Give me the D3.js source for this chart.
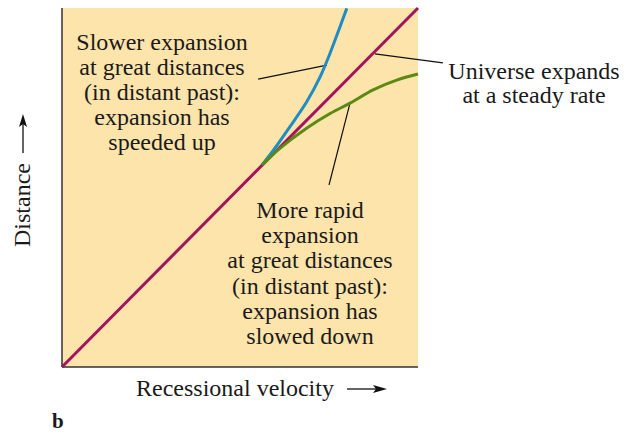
<!DOCTYPE html>
<html>
<head>
<meta charset="utf-8">
<script src="https://cdn.jsdelivr.net/npm/d3@7"></script>
<style>
	body { margin: 0; background: #fff; }
</style>
</head>
<body>
<div id="chart"></div>
<script>

// curves, as (velocity, distance) in arbitrary 0..1 units
var steady = [[0, 0], [1, 1]];
var speededUp = [[0.562, 0.563], [0.594, 0.604], [0.640, 0.669], [0.687, 0.738], [0.725, 0.808], [0.753, 0.874], [0.781, 0.948], [0.800, 0.999]];
var slowedDown = [[0.562, 0.563], [0.612, 0.609], [0.687, 0.665], [0.753, 0.706], [0.809, 0.735], [0.874, 0.772], [0.940, 0.799], [1.0, 0.816]];

// leader lines for the labels
var leaderSlower = [[0.551, 0.802], [0.744, 0.841]];
var leaderSteady = [[0.879, 0.872], [1.070, 0.847]];
var leaderRapid = [[0.809, 0.735], [0.750, 0.507]];

var labelSlower = ["Slower expansion", "at great distances", "(in distant past):", "expansion has", "speeded up"];
var labelRapid = ["More rapid", "expansion", "at great distances", "(in distant past):", "expansion has", "slowed down"];
var labelSteady = ["Universe expands", "at a steady rate"];

var SERIF = "'Liberation Serif', 'Times New Roman', serif";

function main(){

	var width = 632,
		height = 439;

	var left = 62, right = 418, top = 8, bottom = 367;

	var svg = d3.select("#chart").append("svg")
		.attr("width", width)
		.attr("height", height);

	var x = d3.scaleLinear().domain([0, 1]).range([left, right]);
	var y = d3.scaleLinear().domain([0, 1]).range([bottom, top]);

	// background panel
	svg.append("rect")
		.attr("x", left)
		.attr("y", top)
		.attr("width", right - left)
		.attr("height", bottom - top)
		.attr("fill", "#fde4ab");

	// axes (plain lines, no ticks)
	svg.append("line")
		.attr("x1", left).attr("x2", left)
		.attr("y1", top).attr("y2", bottom)
		.attr("stroke", "#333").attr("stroke-width", 1.5);
	svg.append("line")
		.attr("x1", left).attr("x2", right)
		.attr("y1", bottom).attr("y2", bottom)
		.attr("stroke", "#333").attr("stroke-width", 1.5);

	var line = d3.line()
		.x(function(d){ return x(d[0]); })
		.y(function(d){ return y(d[1]); });

	var curve = d3.line()
		.x(function(d){ return x(d[0]); })
		.y(function(d){ return y(d[1]); })
		.curve(d3.curveCatmullRom);

	// leader lines
	[leaderSlower, leaderSteady, leaderRapid].forEach(function(l){
		svg.append("path")
			.attr("d", line(l))
			.attr("fill", "none")
			.attr("stroke", "#111")
			.attr("stroke-width", 1.2);
	});

	svg.append("path")
		.attr("d", line(steady))
		.attr("fill", "none")
		.attr("stroke", "#a3145f")
		.attr("stroke-width", 3);

	svg.append("path")
		.attr("d", curve(speededUp))
		.attr("fill", "none")
		.attr("stroke", "#1f8cc4")
		.attr("stroke-width", 3);

	svg.append("path")
		.attr("d", curve(slowedDown))
		.attr("fill", "none")
		.attr("stroke", "#5b8a12")
		.attr("stroke-width", 3);

	// labels
	function block(lines, cx, y0, dy, size){
		lines.forEach(function(t, i){
			svg.append("text")
				.attr("x", cx)
				.attr("y", y0 + i * dy)
				.attr("text-anchor", "middle")
				.attr("font-family", SERIF)
				.attr("font-size", size)
				.attr("fill", "#1a1a1a")
				.text(t);
		});
	}
	block(labelSlower, 162, 50, 25, 24);
	block(labelRapid, 310, 218, 25.2, 24);
	block(labelSteady, 534, 79, 23.5, 24);

	// axis titles
	svg.append("text")
		.attr("x", 235)
		.attr("y", 396)
		.attr("text-anchor", "middle")
		.attr("font-family", SERIF)
		.attr("font-size", 24)
		.attr("fill", "#1a1a1a")
		.text("Recessional velocity");

	svg.append("text")
		.attr("transform", "translate(30,205) rotate(-90)")
		.attr("text-anchor", "middle")
		.attr("font-family", SERIF)
		.attr("font-size", 24)
		.attr("fill", "#1a1a1a")
		.text("Distance");

	// arrows
	svg.append("line")
		.attr("x1", 347).attr("x2", 378)
		.attr("y1", 389).attr("y2", 389)
		.attr("stroke", "#111").attr("stroke-width", 1.3);
	svg.append("path")
		.attr("d", "M387,389 L373,385 L376,389 L373,393 Z")
		.attr("fill", "#111");

	svg.append("line")
		.attr("x1", 23).attr("x2", 23)
		.attr("y1", 153).attr("y2", 122)
		.attr("stroke", "#111").attr("stroke-width", 1.3);
	svg.append("path")
		.attr("d", "M23,114 L19,127 L23,124 L27,127 Z")
		.attr("fill", "#111");

	svg.append("text")
		.attr("x", 52)
		.attr("y", 428)
		.attr("font-family", SERIF)
		.attr("font-size", 21)
		.attr("font-weight", "bold")
		.attr("fill", "#1a1a1a")
		.text("b");
}

main();
</script>
</body>
</html>
